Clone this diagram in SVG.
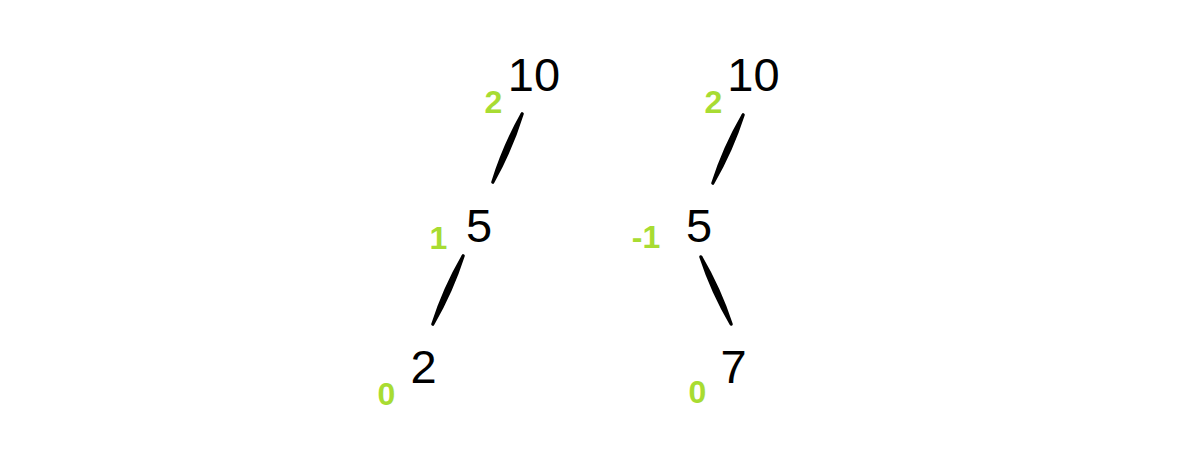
<svg xmlns="http://www.w3.org/2000/svg" width="1200" height="472" viewBox="0 0 1200 472">
<style>
.k{font-family:"Liberation Sans",Arial,sans-serif;font-size:47px;fill:#000;text-anchor:middle}
.b{font-family:"Liberation Sans",Arial,sans-serif;font-size:32px;font-weight:bold;fill:#a8dc32;text-anchor:middle}
.e{fill:#000;stroke:#000;stroke-width:3.2;stroke-linejoin:round}
</style>
<rect width="1200" height="472" fill="#fff"/>
<g id="connectors">
<path class="e" d="M522.2,113.8 Q511.2,149.6 492.8,182.2 Q503.8,146.4 522.2,113.8 Z"/>
<path class="e" d="M463.2,255.8 Q451.7,291.6 432.8,324.2 Q444.3,288.4 463.2,255.8 Z"/>
<path class="e" d="M743.2,114.8 Q731.7,150.6 712.8,183.2 Q724.3,147.4 743.2,114.8 Z"/>
<path class="e" d="M700.8,256.8 Q719.65,288.9 731.2,324.2 Q712.35,292.1 700.8,256.8 Z"/>
</g>
<g id="n10a"><text class="k" x="534" y="91">10</text><text class="b" x="493.5" y="113">2</text></g>
<g id="n5a"><text class="k" x="479" y="242">5</text><text class="b" x="438.5" y="249">1</text></g>
<g id="n2a"><text class="k" x="423.5" y="383">2</text><text class="b" x="386.5" y="405">0</text></g>
<g id="n10b"><text class="k" x="753.5" y="91">10</text><text class="b" x="713.5" y="113">2</text></g>
<g id="n5b"><text class="k" x="699" y="242">5</text><text class="b" x="646" y="248">-1</text></g>
<g id="n7b"><text class="k" x="733.5" y="383">7</text><text class="b" x="697.5" y="403">0</text></g>
</svg>
